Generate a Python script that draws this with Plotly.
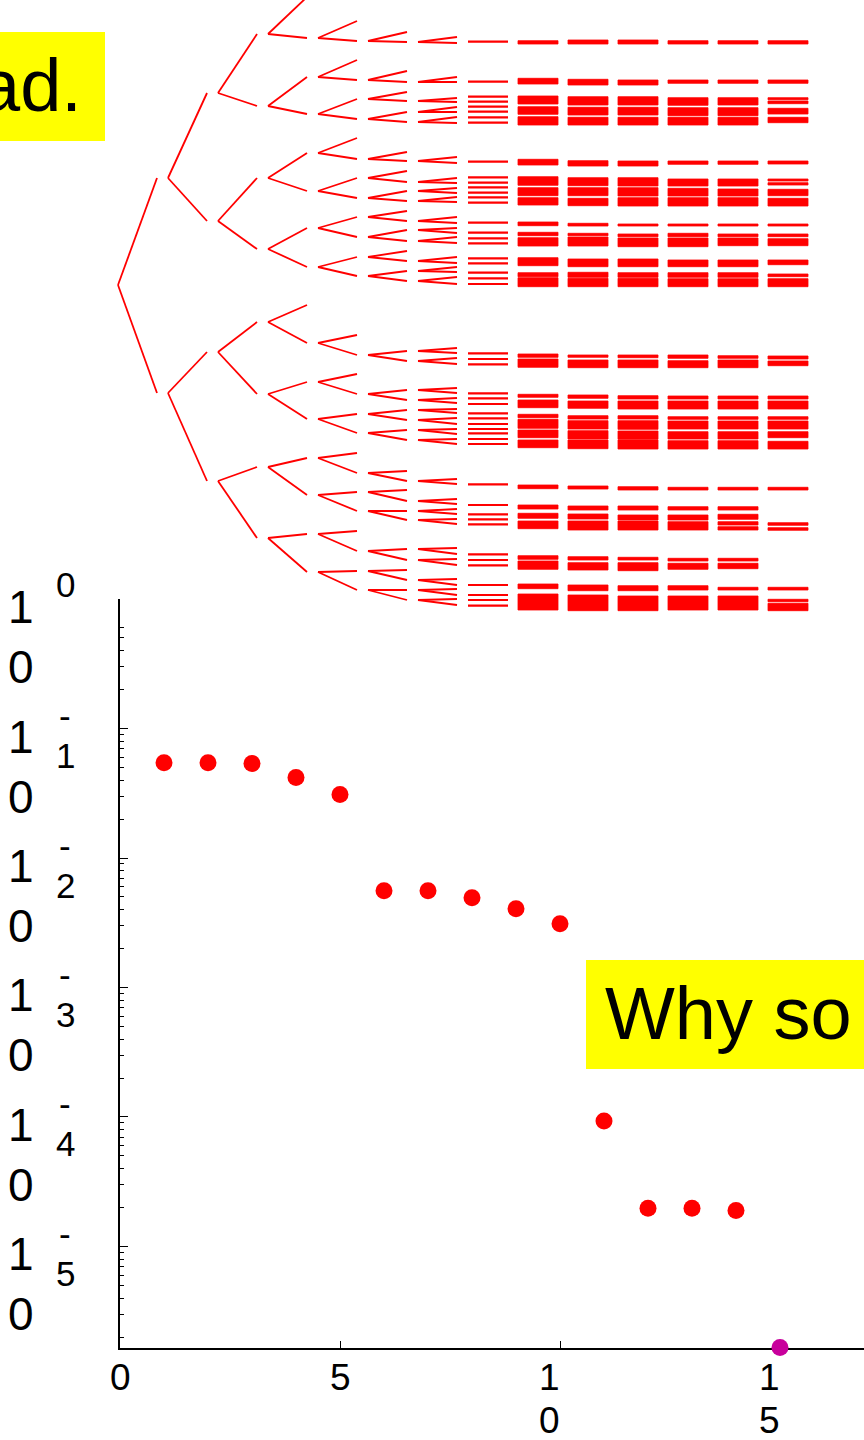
import plotly.graph_objects as go

# ---------------- scatter data (lower panel) ----------------
x_points = [1, 2, 3, 4, 5, 6, 7, 8, 9, 10, 11, 12, 13, 14]
y_points = [0.0544, 0.0544, 0.0536, 0.0418, 0.0309,
            0.00559, 0.00559, 0.00493, 0.00405, 0.00310,
            9.3e-5, 1.97e-5, 1.97e-5, 1.90e-5]
x_highlight = [15]
y_highlight = [1.66e-6]

y_tick_exponents = [0, -1, -2, -3, -4, -5]
x_tick_values = [0, 5, 10, 15]
minor_mantissas = [2, 3, 4, 5, 6, 7, 8, 9]
top_decade_mantissas = [2, 3, 4, 5, 6]
minor_exponents = [-6, -5, -4, -3, -2]

# ---------------- tree data (upper panel) ----------------
# each entry: (node value, [child values]) ; level index = column
level0 = [(285, [178, 393])]
level1 = [(178, [93, 221]), (393, [352, 481])]
level2 = [(93, [34, 106]), (221, [178, 249]), (352, [322, 394]), (481, [467, 538])]
level3 = [(34, [-3, 38]), (106, [77, 114]), (178, [153, 191]), (249, [228, 267]),
          (322, [305, 343]), (394, [382, 419]), (467, [458, 495]), (538, [534, 572])]
level4 = [(38, [21, 41]), (77, [60, 80]), (114, [99, 119]), (153, [138, 159]),
          (191, [178, 198]), (228, [217, 237]), (267, [257, 276]),
          (343, [335, 355]), (382, [374, 394]), (419, [414, 433]), (458, [453, 473]),
          (495, [492, 511]), (534, [531, 551]), (572, [571, 590])]
level5 = [(41, [32, 42]), (80, [71, 82]), (99, [92, 101]), (119, [112, 122]),
          (159, [152, 161]), (178, [171, 182]), (198, [191, 201]), (217, [211, 221]),
          (237, [230, 241]), (257, [251, 261]), (276, [271, 281]),
          (355, [351, 361]), (394, [390, 400]), (414, [410, 420]), (433, [430, 440]),
          (473, [471, 481]), (492, [490, 501]), (511, [511, 520]), (551, [549, 560]),
          (571, [570, 580]), (590, [590, 600])]
level6 = [(42, [37, 43]), (82, [77, 82]), (101, [98, 102]), (112, [107, 112]),
          (122, [117, 123]), (161, [157, 163]), (182, [178, 183]), (191, [188, 193]),
          (201, [197, 202]), (221, [217, 223]), (230, [228, 233]), (241, [237, 243]),
          (261, [257, 263]), (271, [267, 272]), (281, [277, 284]),
          (351, [348, 353]), (361, [358, 364]), (390, [388, 393]), (400, [398, 403]),
          (410, [409, 413]), (420, [418, 424]), (430, [429, 434]), (440, [439, 444]),
          (481, [479, 484]), (501, [499, 504]), (511, [509, 514]), (520, [519, 524]),
          (549, [548, 554]), (560, [559, 565]), (580, [579, 585]), (590, [589, 595]),
          (600, [599, 605])]

col7_lines = [41.7, 81.7, 96.7, 101.7, 106.7, 111.7, 117.3, 122.7, 161.7,
              177.3, 182.7, 187.3, 192.7, 197.3, 202.7, 222.7, 232.7, 238.3, 243.3,
              258.3, 263.3, 272.7, 278.3, 284, 353.3, 359, 364.3, 393.3, 398.3, 404,
              413.3, 418.3, 424, 429, 433.3, 439, 444, 484.3, 505, 514.3, 519.3, 524.3,
              554.3, 560, 565.3, 585, 595, 600, 605.7]

col8_bands = [(40.7, 44), (78.3, 84), (96, 104), (106.7, 114.3), (116.7, 125), (159.3, 165),
              (176.7, 185.3), (187.7, 195.7), (197.7, 205), (222, 225.7), (232.3, 235.7),
              (237.7, 246), (257.7, 265.7), (272.7, 276.7), (277.7, 286.7), (354, 357.3),
              (359, 367.3), (394.3, 397.3), (400, 407.7), (414.3, 417.7), (419.3, 428.3),
              (430, 437.7), (440, 447.7), (485, 488.7), (505, 509), (513.3, 518.3),
              (521, 528.7), (555.7, 559.3), (561, 569.3), (584, 588.7), (594, 610)]
col9_bands = [(40, 44), (79.3, 85), (96.7, 105), (107.3, 115), (117.3, 125), (160.7, 166),
              (177.7, 185.7), (187.7, 195.7), (198.3, 205.7), (223.3, 226), (233.3, 235.7),
              (237, 246), (259, 266.7), (272.3, 277.3), (278.3, 286.7), (355, 357.3),
              (360, 367.7), (395, 398.3), (401, 408.3), (415.7, 419), (420.7, 429),
              (430.7, 439), (440, 448.7), (486, 489), (506, 510), (514, 519), (521, 530),
              (556.7, 560), (562.7, 570), (585, 590.7), (595, 610.7)]
col10_bands = [(40, 44), (80, 85), (96.7, 105), (107.3, 115), (117.3, 125), (161, 166),
               (177.7, 186), (187.7, 196), (197.7, 206), (224, 226), (234, 236.7),
               (238, 246.7), (259, 266.7), (272.7, 277.3), (278.3, 286.7), (355, 357.7),
               (360, 367.7), (395.7, 399), (401, 409), (415.7, 419), (420.7, 429.3),
               (431, 439.3), (440, 449), (486.7, 490), (506, 510), (515, 520), (521, 530),
               (557.3, 560), (562.7, 570.7), (585.7, 590.7), (596, 610.7)]
col11_bands = [(40.7, 44), (80, 83.3), (97.7, 105.3), (107.7, 115.7), (117.3, 125), (161, 164.3),
               (179, 186), (188.3, 196), (197.7, 206), (224, 226), (233.3, 236.7),
               (238, 246.7), (260, 266.7), (272.7, 277.3), (278.7, 286.7), (355, 358.3),
               (360.7, 367.7), (396, 399), (401, 409), (416.7, 419.3), (421, 429),
               (431.7, 439), (440.7, 449), (487.3, 490), (506.7, 510), (515, 520),
               (521.7, 530), (558.3, 561), (563.3, 569.3), (585.7, 590), (596, 610)]
col12_bands = [(40.7, 44), (80, 83.3), (97.7, 105), (107.7, 115.7), (117.3, 125), (161, 164.3),
               (179, 186), (189, 196), (197.7, 206), (224, 226), (234, 236.7),
               (238, 245.7), (260, 266.7), (272.7, 277.3), (278.7, 286.7), (355.7, 358.3),
               (360, 367.7), (396, 399), (401, 409), (416.7, 419.3), (421, 429),
               (431.7, 439), (440.7, 449), (487.3, 490), (506.7, 510), (514.3, 519.3),
               (521.7, 525), (526.7, 530), (558.3, 561), (563.3, 568.7), (587.3, 590), (596, 610)]
col13_bands = [(40.7, 44), (80, 83.3), (97.7, 99.7), (101, 103.7), (108.3, 114), (117.3, 122.7),
               (161, 164), (179, 181), (182.7, 185), (189.3, 195.7), (198.3, 206), (224, 226),
               (234, 236.7), (238.7, 245.7), (260, 264.7), (274, 276.7), (278.7, 286.7),
               (356, 359), (361, 365.7), (396, 399), (401, 409), (416.7, 419.3), (421, 429),
               (431.7, 437.7), (441.3, 449), (487.3, 490), (522.7, 525.3), (527.7, 530.3),
               (587.3, 590), (599.3, 601.7), (603.3, 610.7)]

tree_levels = [level0, level1, level2, level3, level4, level5, level6]
band_columns = {8: col8_bands, 9: col9_bands, 10: col10_bands,
                11: col11_bands, 12: col12_bands, 13: col13_bands}

# ---------------- layout geometry ----------------
W, H = 864, 1440
SEG = 0.78     # branch length (fraction of level spacing)
COL = 0.8      # column width of dense bars
RED = "#ff0000"
FONT = "Liberation Sans, Arial, Helvetica, sans-serif"


def py(p):
    return 1 - p / H


def px(p):
    return p / W


fig = go.Figure()

# tree branches
tx, ty = [], []
for k, level in enumerate(tree_levels):
    for node, children in level:
        for c in children:
            tx += [k, k + SEG, None]
            ty += [node, c, None]
fig.add_trace(go.Scatter(x=tx, y=ty, mode="lines", line=dict(color=RED, width=1.8),
                         xaxis="x2", yaxis="y2", hoverinfo="skip", showlegend=False))

# column 7 thin lines
lx, ly = [], []
for v in col7_lines:
    lx += [7, 7 + COL, None]
    ly += [v, v, None]
fig.add_trace(go.Scatter(x=lx, y=ly, mode="lines", line=dict(color=RED, width=2.2),
                         xaxis="x2", yaxis="y2", hoverinfo="skip", showlegend=False))

# dense bands
bx, by = [], []
for k, bands in band_columns.items():
    for a, b in bands:
        bx += [k, k + COL, k + COL, k, k, None]
        by += [a, a, b, b, a, None]
fig.add_trace(go.Scatter(x=bx, y=by, mode="lines", fill="toself", fillcolor=RED,
                         line=dict(color=RED, width=0.8),
                         xaxis="x2", yaxis="y2", hoverinfo="skip", showlegend=False))

# scatter points
fig.add_trace(go.Scatter(x=x_points, y=y_points, mode="markers",
                         marker=dict(color=RED, size=17), cliponaxis=False,
                         showlegend=False, hoverinfo="skip"))
fig.add_trace(go.Scatter(x=x_highlight, y=y_highlight, mode="markers",
                         marker=dict(color="#c8009c", size=17), cliponaxis=False,
                         showlegend=False, hoverinfo="skip"))

# minor tick values
minor_vals = [m * 10 ** e for e in minor_exponents for m in minor_mantissas]
minor_vals += [m * 10 ** -1 for m in top_decade_mantissas]

ax_y0 = 1347.5
ax_y1 = 599

fig.update_layout(
    width=W, height=H, margin=dict(l=0, r=0, t=0, b=0),
    paper_bgcolor="white", plot_bgcolor="rgba(0,0,0,0)", showlegend=False,
    xaxis=dict(domain=[px(120), 1], range=[0, (W - 120) / 44], showline=True,
               linecolor="black", linewidth=1.5, ticks="inside", ticklen=7, tickwidth=1.3,
               tickcolor="black", tickmode="array", tickvals=x_tick_values,
               showticklabels=False, showgrid=False, zeroline=False, anchor="y",
               layer="below traces"),
    yaxis=dict(type="log", domain=[py(ax_y0), py(ax_y1)], range=[-5.78, 0.0],
               showline=True, linecolor="black", linewidth=2, ticks="inside",
               ticklen=8, tickwidth=1.3, tickcolor="black", tickmode="array",
               tickvals=[10 ** e for e in y_tick_exponents], showticklabels=False,
               showgrid=False, zeroline=False, anchor="x", layer="below traces",
               minor=dict(ticks="inside", ticklen=4, tickwidth=1, tickcolor="black",
                          tickmode="array", tickvals=minor_vals, showgrid=False)),
    xaxis2=dict(domain=[0, 1], range=[-118 / 50, (W - 118) / 50], visible=False,
                anchor="y2"),
    yaxis2=dict(domain=[py(620), 1], range=[620, 0], visible=False, anchor="x2"),
)

shapes = [
    dict(type="rect", xref="paper", yref="paper", x0=-0.02, x1=px(105),
         y0=py(141), y1=py(32), fillcolor="#ffff00", line=dict(width=0), layer="above"),
    dict(type="rect", xref="paper", yref="paper", x0=px(586), x1=1.02,
         y0=py(1069), y1=py(960), fillcolor="#ffff00", line=dict(width=0), layer="above"),
]
fig.update_layout(shapes=shapes)

ann = []
ann.append(dict(text="ad.", xref="paper", yref="paper", x=px(84), y=py(85),
                xanchor="right", yanchor="middle", showarrow=False,
                font=dict(family=FONT, size=74, color="black")))
ann.append(dict(text="Why so bad?", xref="paper", yref="paper", x=px(603), y=py(1013),
                xanchor="left", yanchor="middle", showarrow=False,
                font=dict(family=FONT, size=74, color="black")))

# y tick labels: "10" wrapped, exponent stacked
for e in y_tick_exponents:
    for i, ch in enumerate("10"):
        ann.append(dict(text=ch, xref="paper", yref="y", x=px(21), y=e,
                        yshift=-8 - 60 * i, xanchor="center", yanchor="middle",
                        showarrow=False, font=dict(family=FONT, size=46, color="black")))
    for i, ch in enumerate(str(e)):
        shift = 15 - 42 * i
        if ch == "-":
            shift -= 2
        ann.append(dict(text=ch, xref="paper", yref="y", x=px(65), y=e,
                        yshift=shift, xanchor="center", yanchor="middle",
                        showarrow=False, font=dict(family=FONT, size=35, color="black")))

# x tick labels: digits stacked
for v in x_tick_values:
    s = str(v)
    for i, ch in enumerate(s):
        ann.append(dict(text=ch, xref="x", yref="paper", x=v, y=py(ax_y0),
                        xshift=-11 if len(s) > 1 else 0, yshift=-30 - 43 * i,
                        xanchor="center", yanchor="middle", showarrow=False,
                        font=dict(family=FONT, size=37, color="black")))

fig.update_layout(annotations=ann)
fig.write_html("out.html")
